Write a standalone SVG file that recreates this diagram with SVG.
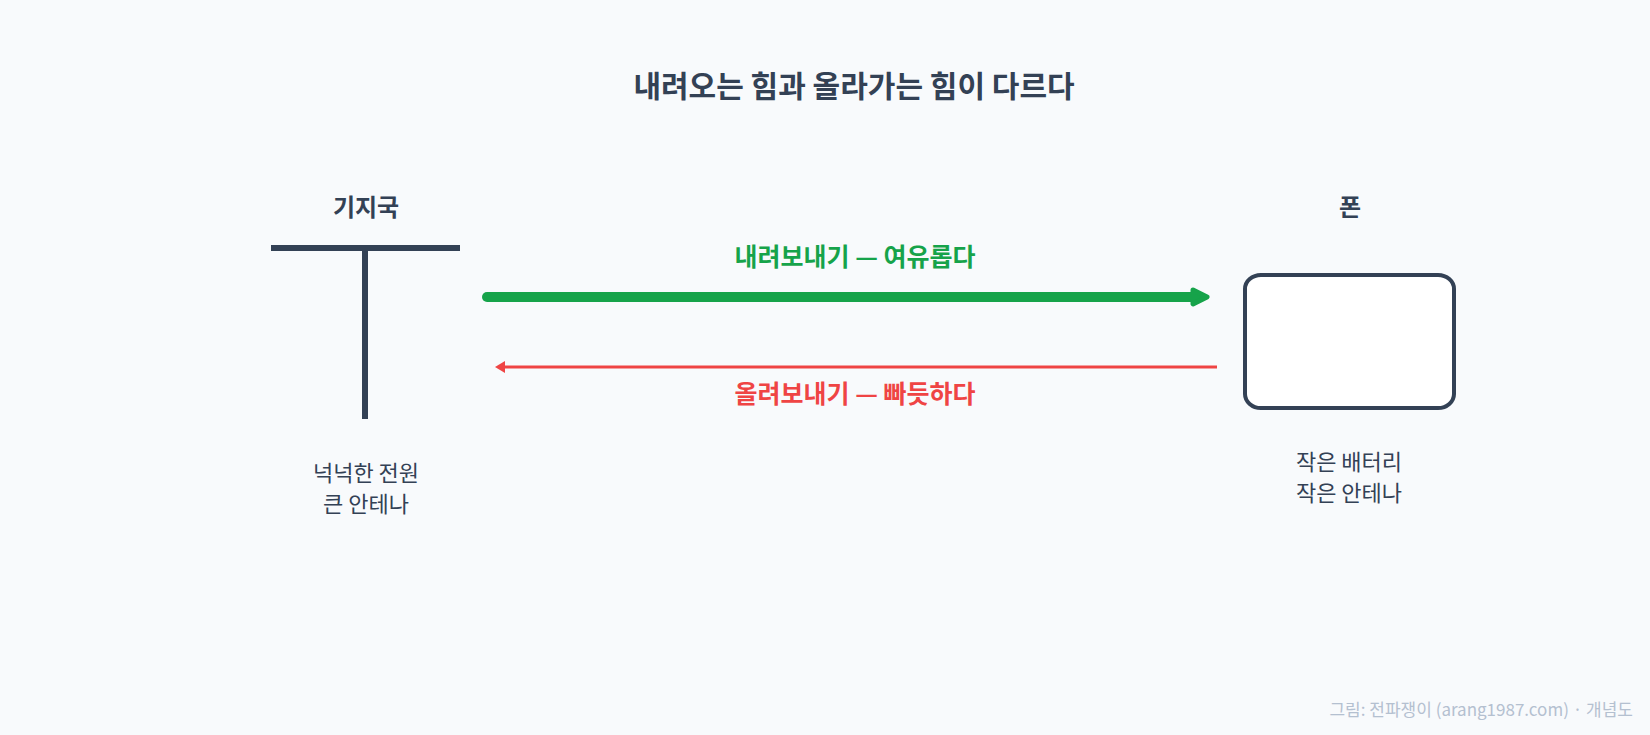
<svg xmlns="http://www.w3.org/2000/svg" width="1650" height="735" viewBox="0 0 1650 735">
<defs>
<style>
text{font-family:"Noto Sans CJK KR","Noto Sans",sans-serif;}
.dark{fill:#334155;}
.b{font-weight:bold;}
.ink{stroke:#334155;fill:none;}
</style>
<marker id="ag" viewBox="0 0 22 20" refX="6" refY="10" markerWidth="22" markerHeight="20" markerUnits="userSpaceOnUse" orient="auto">
<path d="M3,3 L17,10 L3,17 Z" fill="#16a34a" stroke="#16a34a" stroke-width="5" stroke-linejoin="round"/>
</marker>
<marker id="ar" viewBox="0 0 10 12" refX="2" refY="6" markerWidth="10" markerHeight="12" markerUnits="userSpaceOnUse" orient="auto">
<path d="M0,0 L10,6 L0,12 Z" fill="#ef4444"/>
</marker>
</defs>
<rect width="1650" height="735" fill="#f8fafc"/>
<text x="854" y="97" text-anchor="middle" font-size="30" class="dark b">내려오는 힘과 올라가는 힘이 다르다</text>
<g id="base-station">
<text x="366" y="216" text-anchor="middle" font-size="24" class="dark b">기지국</text>
<line x1="271" y1="248" x2="460" y2="248" class="ink" stroke-width="6"/>
<line x1="365" y1="248" x2="365" y2="419" class="ink" stroke-width="6"/>
<text x="366" y="481" text-anchor="middle" font-size="22" class="dark">넉넉한 전원</text>
<text x="366" y="512" text-anchor="middle" font-size="22" class="dark">큰 안테나</text>
</g>
<g id="phone">
<text x="1350" y="216" text-anchor="middle" font-size="24" class="dark b">폰</text>
<rect x="1245" y="275" width="209" height="133" rx="16" ry="14" fill="#ffffff" stroke="#334155" stroke-width="4"/>
<text x="1349" y="470" text-anchor="middle" font-size="22" class="dark">작은 배터리</text>
<text x="1349" y="501" text-anchor="middle" font-size="22" class="dark">작은 안테나</text>
</g>
<g id="connectors">
<line x1="487" y1="297" x2="1196" y2="297" stroke="#16a34a" stroke-width="10" stroke-linecap="round" marker-end="url(#ag)"/>
<text x="855" y="266" text-anchor="middle" font-size="25" class="b" fill="#16a34a">내려보내기 — 여유롭다</text>
<line x1="1217" y1="367" x2="503" y2="367" stroke="#ef4444" stroke-width="3" marker-end="url(#ar)"/>
<text x="855" y="403" text-anchor="middle" font-size="25" class="b" fill="#ef4444">올려보내기 — 빠듯하다</text>
</g>
<text x="1633" y="716" text-anchor="end" font-size="17" fill="#b4c0d0">그림: 전파쟁이 (arang1987.com) · 개념도</text>
</svg>
